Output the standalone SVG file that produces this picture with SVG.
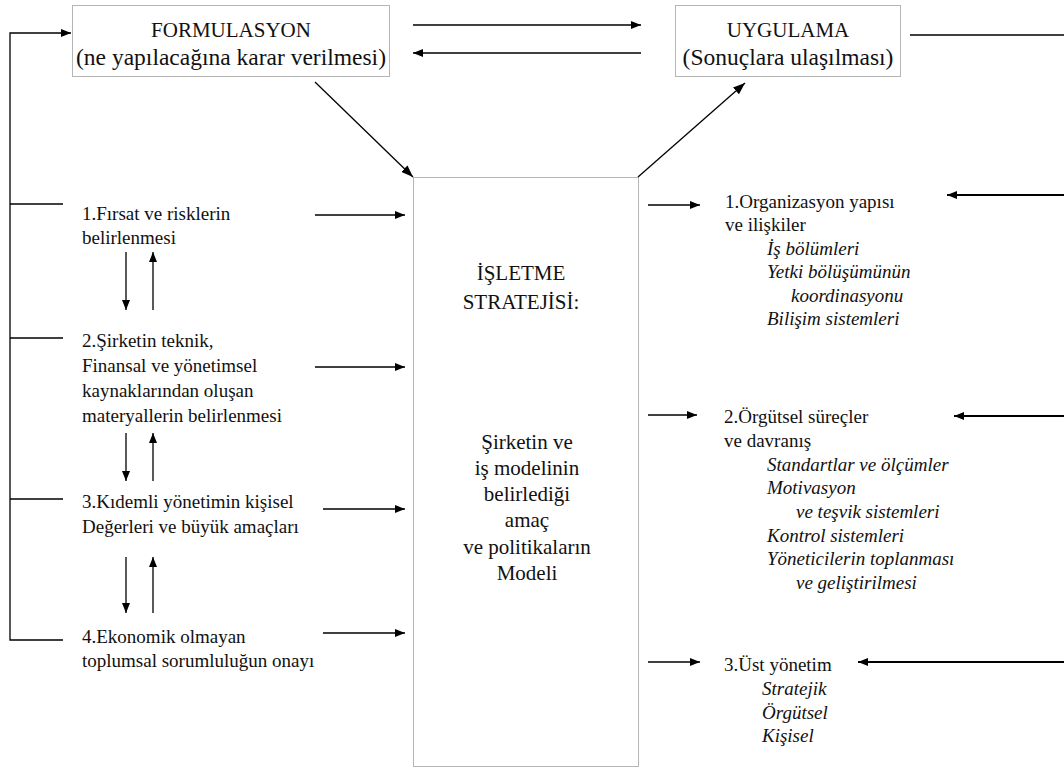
<svg xmlns="http://www.w3.org/2000/svg" width="1064" height="769" viewBox="0 0 1064 769">
  <style>
    .box { fill: #fff; stroke: #6a6a6a; stroke-width: 1; stroke-dasharray: 1 1; }
    .ln { fill: none; stroke: #000; stroke-width: 1.3; }
    .hv { stroke-width: 2; }
    text { font-family: "Liberation Serif", "Times New Roman", serif; fill: #111; }
    .hd1 { font-size: 21px; text-anchor: middle; }
    .hd2 { font-size: 23.5px; text-anchor: middle; }
    .ctr { font-size: 21px; text-anchor: middle; }
    .itm { font-size: 19px; }
    .sub { font-size: 19px; font-style: italic; }
  </style>
  <defs>
    <marker id="ah" viewBox="0 0 10 8" refX="10" refY="4" markerWidth="10" markerHeight="8" markerUnits="userSpaceOnUse" orient="auto">
      <path d="M0,0 L10,4 L0,8 z" fill="#000"/>
    </marker>
    <marker id="ahd" viewBox="0 0 12 9" refX="12" refY="4.5" markerWidth="12" markerHeight="9" markerUnits="userSpaceOnUse" orient="auto">
      <path d="M0,0 L12,4.5 L0,9 z" fill="#000"/>
    </marker>
  </defs>

  <rect width="1064" height="769" fill="#fff"/>

  <!-- connectors -->
  <g id="connectors">
    <!-- feedback loop on the left -->
    <path class="ln" d="M63,640 H10 V33 H71" marker-end="url(#ah)"/>
    <path class="ln" d="M10,204 H63"/>
    <path class="ln" d="M10,338 H63"/>
    <path class="ln" d="M10,499 H63"/>

    <!-- formulation <-> implementation -->
    <path class="ln" d="M413,25 H641" marker-end="url(#ah)"/>
    <path class="ln" d="M641,53 H413" marker-end="url(#ah)"/>

    <!-- diagonals through the strategy box -->
    <path class="ln" d="M315,82 L413,177" marker-end="url(#ahd)"/>
    <path class="ln" d="M638,177 L745,83" marker-end="url(#ahd)"/>

    <!-- left items into the strategy box -->
    <path class="ln" d="M315,215 H405" marker-end="url(#ah)"/>
    <path class="ln" d="M315,367 H405" marker-end="url(#ah)"/>
    <path class="ln" d="M323,509 H405" marker-end="url(#ah)"/>
    <path class="ln" d="M323,633 H405" marker-end="url(#ah)"/>

    <!-- up / down pairs between left items -->
    <path class="ln" d="M126,252 V310" marker-end="url(#ah)"/>
    <path class="ln" d="M153,310 V252" marker-end="url(#ah)"/>
    <path class="ln" d="M126,433 V481" marker-end="url(#ah)"/>
    <path class="ln" d="M153,481 V433" marker-end="url(#ah)"/>
    <path class="ln" d="M126,557 V613" marker-end="url(#ah)"/>
    <path class="ln" d="M153,613 V557" marker-end="url(#ah)"/>

    <!-- strategy box to right items -->
    <path class="ln" d="M648,205 H700" marker-end="url(#ah)"/>
    <path class="ln" d="M648,415 H697" marker-end="url(#ah)"/>
    <path class="ln" d="M648,662 H700" marker-end="url(#ah)"/>

    <!-- implementation loop on the right -->
    <path class="ln" d="M910,35 H1064"/>
    <path class="ln hv" d="M1064,195 H947" marker-end="url(#ah)"/>
    <path class="ln hv" d="M1064,416 H954" marker-end="url(#ah)"/>
    <path class="ln hv" d="M1064,662 H858" marker-end="url(#ah)"/>
  </g>

  <!-- nodes -->
  <g id="formulasyon">
    <rect class="box" x="72.5" y="5.5" width="317" height="71"/>
    <text class="hd1" x="231" y="37">FORMULASYON</text>
    <text class="hd2" x="231" y="65">(ne yapılacağına karar verilmesi)</text>
  </g>

  <g id="uygulama">
    <rect class="box" x="675.5" y="5.5" width="225" height="71"/>
    <text class="hd1" x="788" y="37">UYGULAMA</text>
    <text class="hd2" x="788" y="65">(Sonuçlara ulaşılması)</text>
  </g>

  <g id="isletme-stratejisi">
    <rect class="box" x="413.5" y="177.5" width="225" height="589"/>
    <text class="ctr" x="521" y="280">İŞLETME</text>
    <text class="ctr" x="521" y="309">STRATEJİSİ:</text>
    <text class="ctr" x="527" y="449">Şirketin ve</text>
    <text class="ctr" x="527" y="475">iş modelinin</text>
    <text class="ctr" x="527" y="501">belirlediği</text>
    <text class="ctr" x="527" y="527">amaç</text>
    <text class="ctr" x="527" y="554">ve politikaların</text>
    <text class="ctr" x="527" y="580">Modeli</text>
  </g>

  <g id="firsat-riskler">
    <text class="itm" x="82" y="220">1.Fırsat ve risklerin</text>
    <text class="itm" x="82" y="244">belirlenmesi</text>
  </g>

  <g id="kaynaklar">
    <text class="itm" x="82" y="347">2.Şirketin teknik,</text>
    <text class="itm" x="82" y="372">Finansal ve yönetimsel</text>
    <text class="itm" x="82" y="397">kaynaklarından oluşan</text>
    <text class="itm" x="82" y="422">materyallerin belirlenmesi</text>
  </g>

  <g id="degerler">
    <text class="itm" x="82" y="508">3.Kıdemli yönetimin kişisel</text>
    <text class="itm" x="82" y="533">Değerleri ve büyük amaçları</text>
  </g>

  <g id="sosyal-sorumluluk">
    <text class="itm" x="82" y="643">4.Ekonomik olmayan</text>
    <text class="itm" x="82" y="667">toplumsal sorumluluğun onayı</text>
  </g>

  <g id="organizasyon">
    <text class="itm" x="725" y="208">1.Organizasyon yapısı</text>
    <text class="itm" x="725" y="231">ve ilişkiler</text>
    <text class="sub" x="767" y="255">İş bölümleri</text>
    <text class="sub" x="767" y="278">Yetki bölüşümünün</text>
    <text class="sub" x="791" y="302">koordinasyonu</text>
    <text class="sub" x="767" y="325">Bilişim sistemleri</text>
  </g>

  <g id="surecler">
    <text class="itm" x="724" y="423">2.Örgütsel süreçler</text>
    <text class="itm" x="724" y="447">ve davranış</text>
    <text class="sub" x="767" y="471">Standartlar ve ölçümler</text>
    <text class="sub" x="767" y="494">Motivasyon</text>
    <text class="sub" x="796" y="518">ve teşvik sistemleri</text>
    <text class="sub" x="767" y="542">Kontrol sistemleri</text>
    <text class="sub" x="767" y="565">Yöneticilerin toplanması</text>
    <text class="sub" x="796" y="589">ve geliştirilmesi</text>
  </g>

  <g id="ust-yonetim">
    <text class="itm" x="724" y="671">3.Üst yönetim</text>
    <text class="sub" x="762" y="695">Stratejik</text>
    <text class="sub" x="762" y="719">Örgütsel</text>
    <text class="sub" x="762" y="742">Kişisel</text>
  </g>
</svg>
